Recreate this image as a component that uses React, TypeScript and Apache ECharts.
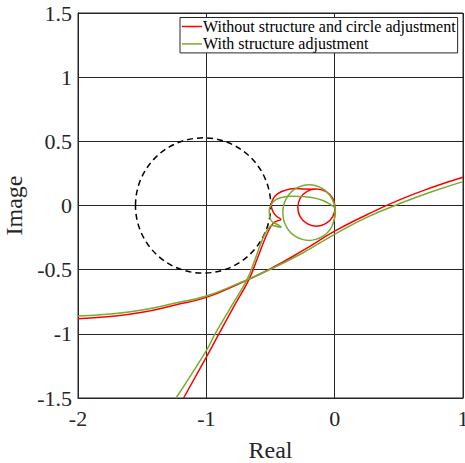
import React, { useEffect, useRef } from "react";
import * as echarts from "echarts";

const seriesNames = ["Without structure and circle adjustment", "With structure adjustment"];
const seriesColors = ["#ff0000", "#77ac30"];

const xTickValues = [-2, -1, 0, 1];
const yTickValues = [-1.5, -1, -0.5, 0, 0.5, 1, 1.5];

// reference circle: center x, center y, radius
const refCircle = [[-1.025, 0, 0.527]];

// red: long branch
const redLong: [number, number][] = [
  [-2, -0.882], [-1.75, -0.865], [-1.5, -0.832], [-1.25, -0.777], [-1.0, -0.716], [-0.75, -0.612],
  [-0.5, -0.493], [-0.25, -0.352], [0, -0.2], [0.25, -0.072], [0.5, 0.042], [0.75, 0.138], [1, 0.22],
];
// red: steep branch with loops
const redLoop: [number, number][] = [
  [-1.177, -1.5], [-1.0, -1.181], [-0.902, -1.001], [-0.788, -0.791], [-0.671, -0.584],
  [-0.601, -0.409], [-0.547, -0.269], [-0.508, -0.183], [-0.477, -0.136], [-0.446, -0.12],
  [-0.419, -0.109], [-0.454, -0.084], [-0.482, -0.045], [-0.494, 0.004], [-0.479, 0.051],
  [-0.446, 0.09], [-0.391, 0.117], [-0.314, 0.132], [-0.236, 0.128], [-0.181, 0.127],
  [-0.142, 0.129], [-0.07, 0.11], [-0.016, 0.057], [0.003, -0.016], [-0.016, -0.089],
  [-0.07, -0.142], [-0.142, -0.161], [-0.215, -0.142], [-0.268, -0.089], [-0.287, -0.016],
  [-0.268, 0.057], [-0.215, 0.11], [-0.142, 0.129], [-0.07, 0.11], [-0.016, 0.057],
];
// green: long branch
const greenLong: [number, number][] = [
  [-2, -0.861], [-1.75, -0.845], [-1.5, -0.814], [-1.25, -0.762], [-1.0, -0.705], [-0.75, -0.607],
  [-0.5, -0.497], [-0.25, -0.37], [0, -0.225], [0.25, -0.093], [0.5, 0.012], [0.75, 0.105], [1, 0.186],
];
// green: steep branch with loops
const greenLoop: [number, number][] = [
  [-1.236, -1.5], [-1.0, -1.13], [-0.936, -1.009], [-0.811, -0.795], [-0.685, -0.581],
  [-0.625, -0.433], [-0.574, -0.292], [-0.531, -0.199], [-0.487, -0.155], [-0.446, -0.165],
  [-0.415, -0.171], [-0.446, -0.148], [-0.485, -0.129], [-0.506, -0.09], [-0.51, -0.043],
  [-0.496, 0.004], [-0.461, 0.043], [-0.415, 0.062], [-0.337, 0.072], [-0.259, 0.07],
  [-0.181, 0.062], [-0.103, 0.043], [-0.041, 0.012], [0.004, -0.03], [-0.022, -0.164],
  [-0.097, -0.243], [-0.199, -0.272], [-0.302, -0.243], [-0.377, -0.164], [-0.404, -0.055],
  [-0.377, 0.054], [-0.302, 0.133], [-0.199, 0.162], [-0.097, 0.133], [-0.022, 0.054],
  [0.006, -0.055], [-0.022, -0.164],
];

const FONT = "Liberation Serif";

export default function App() {
  const ref = useRef<HTMLDivElement>(null);
  useEffect(() => {
    if (!ref.current) return;
    const chart = echarts.init(ref.current, null, { renderer: "svg" });
    const lineSeries = (name: string, color: string, data: [number, number][], s: number) => ({
      type: "line",
      name,
      data,
      showSymbol: false,
      symbol: "none",
      smooth: s,
      lineStyle: { color, width: 1.5 },
      itemStyle: { color },
      z: 3,
    });
    chart.setOption({
      animation: false,
      backgroundColor: "#fff",
      textStyle: { fontFamily: FONT },
      grid: {
        left: 78, right: 2, top: 13, bottom: 65,
        outerBoundsMode: "none",
        containLabel: false,
        show: true, borderColor: "#262626", borderWidth: 1, backgroundColor: "transparent",
      },
      legend: {
        orient: "vertical",
        left: 180, top: 17.5,
        data: seriesNames.map((n) => ({ name: n, icon: "rect" })),
        itemWidth: 20, itemHeight: 1.5, itemGap: 1.4,
        padding: [1, 2, 1, 2],
        borderColor: "#262626", borderWidth: 1, backgroundColor: "#fff",
        textStyle: { fontFamily: FONT, fontSize: 16, color: "#000", padding: [0, 0, 0, -4], lineHeight: 16 },
      },
      xAxis: {
        type: "value", min: xTickValues[0], max: xTickValues[xTickValues.length - 1], interval: 1,
        name: "Real", nameLocation: "middle", nameGap: 40,
        nameTextStyle: { fontFamily: FONT, fontSize: 24, color: "#262626" },
        axisLine: { show: true, onZero: false, lineStyle: { color: "#262626" } },
        axisTick: { show: true, inside: true, length: 5, lineStyle: { color: "#262626" } },
        axisLabel: { fontFamily: FONT, fontSize: 22, color: "#262626", margin: 9 },
        splitLine: { show: true, lineStyle: { color: "#262626", width: 1 } },
      },
      yAxis: {
        type: "value", min: yTickValues[0], max: yTickValues[yTickValues.length - 1], interval: 0.5,
        name: "Image", nameLocation: "middle", nameGap: 41,
        nameTextStyle: { fontFamily: FONT, fontSize: 24, color: "#262626" },
        axisLine: { show: true, onZero: false, lineStyle: { color: "#262626" } },
        axisTick: { show: true, inside: true, length: 5, lineStyle: { color: "#262626" } },
        axisLabel: { fontFamily: FONT, fontSize: 22, color: "#262626", margin: 6 },
        splitLine: { show: true, lineStyle: { color: "#262626", width: 1 } },
      },
      series: [
        {
          type: "custom",
          name: "refCircle",
          data: refCircle,
          renderItem: (params: any, api: any) => {
            const c = api.coord([api.value(0), api.value(1)]);
            const rx = api.size([api.value(2), 0])[0];
            const ry = api.size([0, api.value(2)])[1];
            return {
              type: "ellipse",
              shape: { cx: c[0], cy: c[1], rx, ry },
              style: { fill: "none", stroke: "#000", lineWidth: 1.5, lineDash: [6, 4] },
            };
          },
          z: 2,
          silent: true,
        },
        lineSeries(seriesNames[0], seriesColors[0], redLong, 0.5),
        lineSeries(seriesNames[0], seriesColors[0], redLoop, 0.4),
        lineSeries(seriesNames[1], seriesColors[1], greenLong, 0.5),
        lineSeries(seriesNames[1], seriesColors[1], greenLoop, 0.4),
      ],
    });
    return () => chart.dispose();
  }, []);
  return (
    <div
      ref={ref}
      style={{ position: "fixed", left: 0, top: 0, width: 465, height: 463, background: "#fff" }}
    />
  );
}
